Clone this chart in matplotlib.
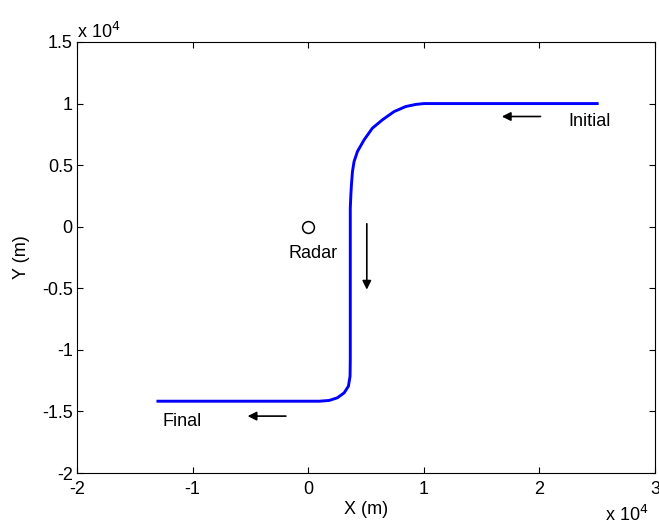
import matplotlib.pyplot as plt

plt.rcParams['font.family'] = ['Liberation Sans', 'DejaVu Sans']

# Trajectory (m)
track_x = [25000, 10000, 9300, 8440, 7430, 6420, 5550, 4840, 4260, 3970, 3830, 3740, 3690, 3640,
           3640, 3620, 3480, 3110, 2530, 1810, 950, -13000]
track_y = [10000, 10000, 9930, 9760, 9350, 8680, 8000, 7060, 6110, 5300, 4490, 3410, 2600, 1500,
           -10800, -12140, -12950, -13490, -13890, -14110, -14170, -14170]

radar_x, radar_y = 0, 0

# Tick values
xticks = [-2e4, -1e4, 0, 1e4, 2e4, 3e4]
xtick_labels = ['-2', '-1', '0', '1', '2', '3']
yticks = [-2e4, -1.5e4, -1e4, -0.5e4, 0, 0.5e4, 1e4, 1.5e4]
ytick_labels = ['-2', '-1.5', '-1', '-0.5', '0', '0.5', '1', '1.5']

fs = 13

fig = plt.figure(figsize=(6.59, 5.26), dpi=100)
ax = fig.add_axes([77 / 659, 53 / 526, 578 / 659, 431 / 526])

ax.plot(track_x, track_y, color='#0000ff', lw=2.1)
ax.plot(radar_x, radar_y, 'o', mfc='white', mec='black', ms=8.5, mew=1.1)

ax.text(400, -2200, 'Radar', ha='center', va='center', fontsize=fs)
ax.text(22500, 8550, 'Initial', ha='left', va='center', fontsize=fs)
ax.text(-12600, -15850, 'Final', ha='left', va='center', fontsize=fs)

arrow = dict(arrowstyle='-|>', color='black', lw=1.2, mutation_scale=13,
             shrinkA=0, shrinkB=0)
ax.annotate('', xy=(16750, 8950), xytext=(20100, 8950), arrowprops=arrow)
ax.annotate('', xy=(5070, -5110), xytext=(5070, 240), arrowprops=arrow)
ax.annotate('', xy=(-5240, -15380), xytext=(-1930, -15380), arrowprops=arrow)

ax.set_xlim(-2e4, 3e4)
ax.set_ylim(-2e4, 1.5e4)
ax.set_xticks(xticks)
ax.set_xticklabels(xtick_labels)
ax.set_yticks(yticks)
ax.set_yticklabels(ytick_labels)
ax.tick_params(direction='in', top=True, right=True, labelsize=fs, length=4.5)
ax.tick_params(axis='x', pad=6)
ax.tick_params(axis='y', pad=3)

ax.set_xlabel('X (m)', fontsize=fs)
ax.set_ylabel('Y (m)', fontsize=fs)
ax.xaxis.set_label_coords(0.5, (473 - 510) / 431)
ax.xaxis.label.set_va('center')
ax.yaxis.set_label_coords((22 - 77) / 577, 0.5)
ax.yaxis.label.set_va('center')

fig.text(77 / 659, 1 - 38 / 526, r'x 10$^4$', fontsize=fs, ha='left', va='baseline')
fig.text(648 / 659, 1 / 526, r'x 10$^4$', fontsize=fs, ha='right', va='bottom')

fig.savefig('out.png', dpi=100)
